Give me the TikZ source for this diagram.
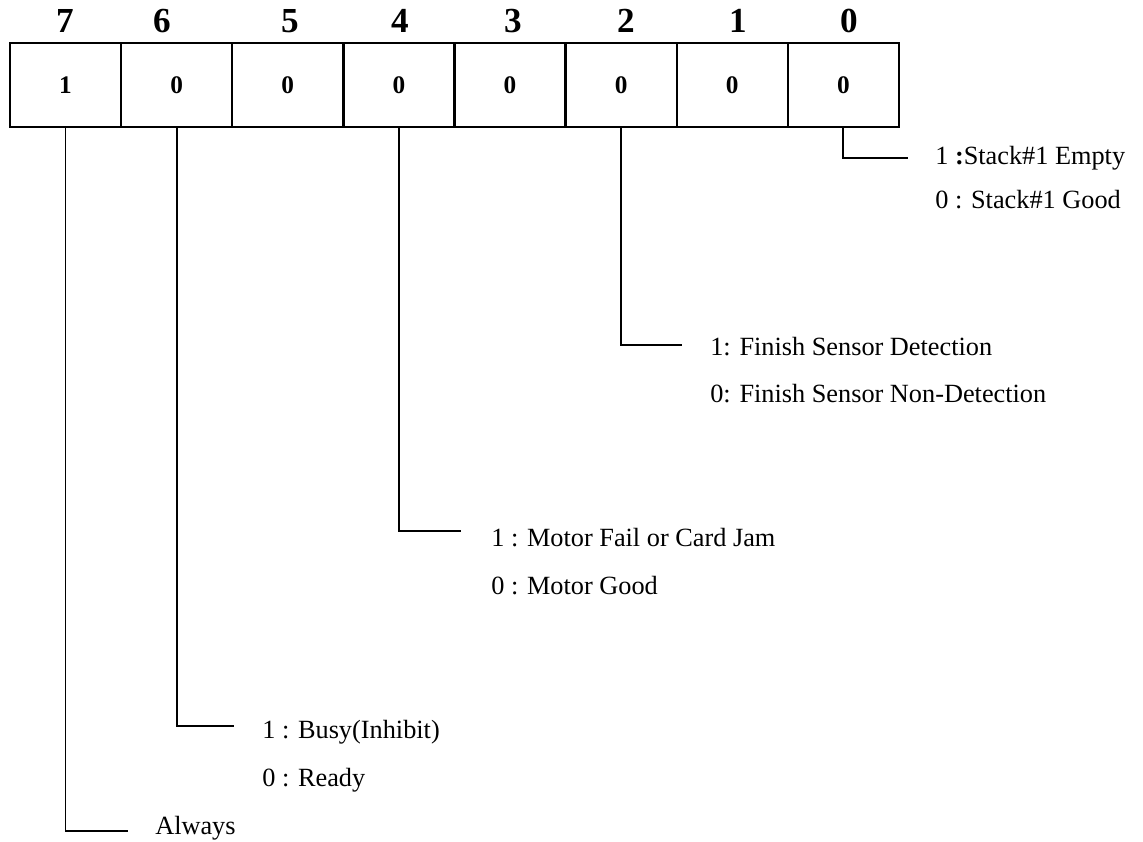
\documentclass[tikz,border=0pt]{standalone}
\usepackage{fontspec}
\setmainfont{Liberation Serif}
\usetikzlibrary{positioning}

\begin{document}
\begin{tikzpicture}[
    x=0.025cm, y=-0.025cm,
    % Estilos das celulas
    cell/.style={
        rectangle,
        draw,
        line width=1.7pt,
        outer sep=0pt,
        inner sep=0pt,
        minimum width=2.7775cm,
        minimum height=2.1cm,
        font=\fontsize{18}{21}\selectfont\bfseries,
    },
    bitnum/.style={font=\fontsize{25}{29}\selectfont\bfseries, inner sep=0pt},
    % Estilos das descricoes
    desc/.style={anchor=base west, inner sep=0pt, font=\fontsize{18.7}{22}\selectfont},
    conn/.style={line width=1.4pt},
]
\useasboundingbox (0,0) rectangle (1143,841);

% ============================================================================
% REGISTRADOR
% ============================================================================
\node[cell] (c7) at (65.5,85) {1};
\node[cell, right=0pt of c7] (c6) {0};
\node[cell, right=0pt of c6] (c5) {0};
\node[cell, right=0pt of c5] (c4) {0};
\node[cell, right=0pt of c4] (c3) {0};
\node[cell, right=0pt of c3] (c2) {0};
\node[cell, right=0pt of c2] (c1) {0};
\node[cell, right=0pt of c1] (c0) {0};

% Numeros dos bits
\node[bitnum] (b7) at (65,21) {7};
\node[bitnum] (b6) at (162,21) {6};
\node[bitnum] (b5) at (290,21) {5};
\node[bitnum] (b4) at (400,21) {4};
\node[bitnum] (b3) at (513,21) {3};
\node[bitnum] (b2) at (626,21) {2};
\node[bitnum] (b1) at (738,21) {1};
\node[bitnum] (b0) at (849,21) {0};

% ============================================================================
% DESCRICOES
% ============================================================================
\node[desc] (t0a) at (935,164) {1 \textbf{:}Stack\#1 Empty};
\node[desc] (t0b) at (935,208) {0 : Stack\#1 Good};

\node[desc] (t2a) at (710,355) {1: Finish Sensor Detection};
\node[desc] (t2b) at (710,402) {0: Finish Sensor Non-Detection};

\node[desc] (t4a) at (491,546) {1 : Motor Fail or Card Jam};
\node[desc] (t4b) at (491,594) {0 : Motor Good};

\node[desc] (t6a) at (262,738) {1 : Busy(Inhibit)};
\node[desc] (t6b) at (262,786) {0 : Ready};

\node[desc] (t7) at (155,834) {Always};

% ============================================================================
% LINHAS
% ============================================================================
\coordinate (e0) at (908,158);
\coordinate (e2) at (682,345);
\coordinate (e4) at (461,531);
\coordinate (e6) at (234,726);
\coordinate (e7) at (128,831);

\draw[conn] (c0.south) |- (e0);
\draw[conn] (c2.south) |- (e2);
\draw[conn] (c4.south) |- (e4);
\draw[conn] (c6.south) |- (e6);
\draw[conn] (c7.south) |- (e7);

\end{tikzpicture}
\end{document}
